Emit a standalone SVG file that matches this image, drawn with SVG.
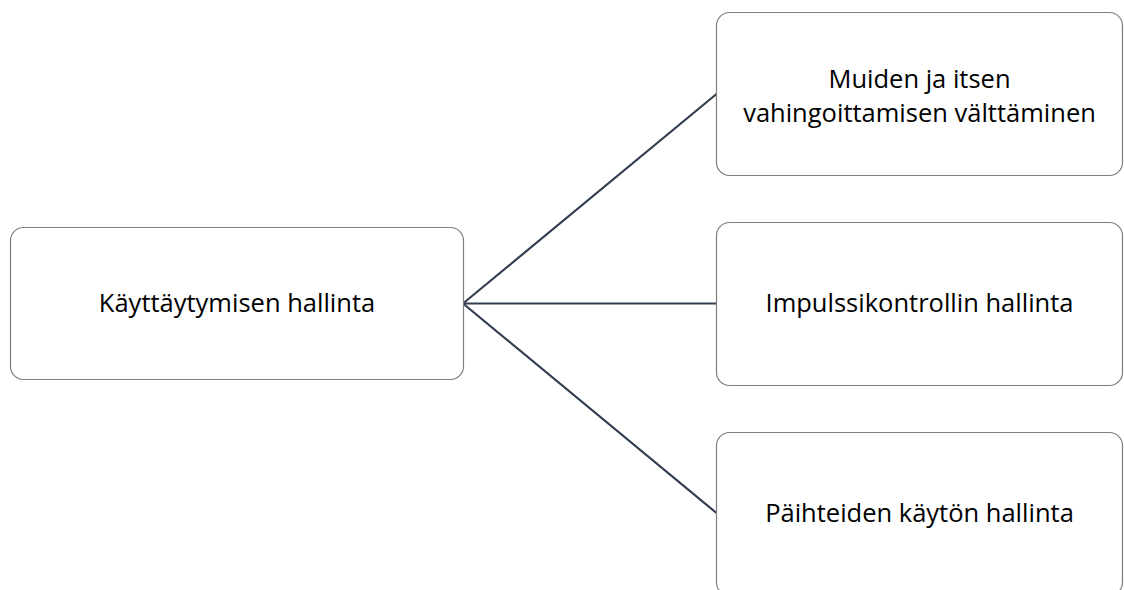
<svg xmlns="http://www.w3.org/2000/svg" width="1124" height="590" viewBox="0 0 1124 590">
  <style>
    .box { fill: #ffffff; stroke: #7f7f7f; stroke-width: 1.2; }
    .label { font-family: "Open Sans", "Liberation Sans", sans-serif; font-size: 25.5px; fill: #000000; text-anchor: middle; }
    .link { stroke: #333f50; stroke-width: 2.2; fill: none; stroke-linecap: round; }
  </style>
  <rect width="1124" height="590" fill="#ffffff"/>
  <g id="connectors">
    <line class="link" x1="463" y1="303.5" x2="716.5" y2="94"/>
    <line class="link" x1="463" y1="303.5" x2="716.5" y2="303.5"/>
    <line class="link" x1="463" y1="303.5" x2="716.5" y2="513"/>
  </g>
  <g id="node-root">
    <rect class="box" x="10.5" y="227.5" width="453" height="152" rx="13"/>
    <text class="label" x="237" y="311.5">Käyttäytymisen hallinta</text>
  </g>
  <g id="node-harm">
    <rect class="box" x="716.5" y="12.5" width="406" height="163" rx="13"/>
    <text class="label" x="919.5" y="87.5">Muiden ja itsen</text>
    <text class="label" x="919.5" y="121.5">vahingoittamisen välttäminen</text>
  </g>
  <g id="node-impulse">
    <rect class="box" x="716.5" y="222.5" width="406" height="163" rx="13"/>
    <text class="label" x="919.5" y="311.5">Impulssikontrollin hallinta</text>
  </g>
  <g id="node-substance">
    <rect class="box" x="716.5" y="432.5" width="406" height="163" rx="13"/>
    <text class="label" x="919.5" y="521.5">Päihteiden käytön hallinta</text>
  </g>
</svg>
